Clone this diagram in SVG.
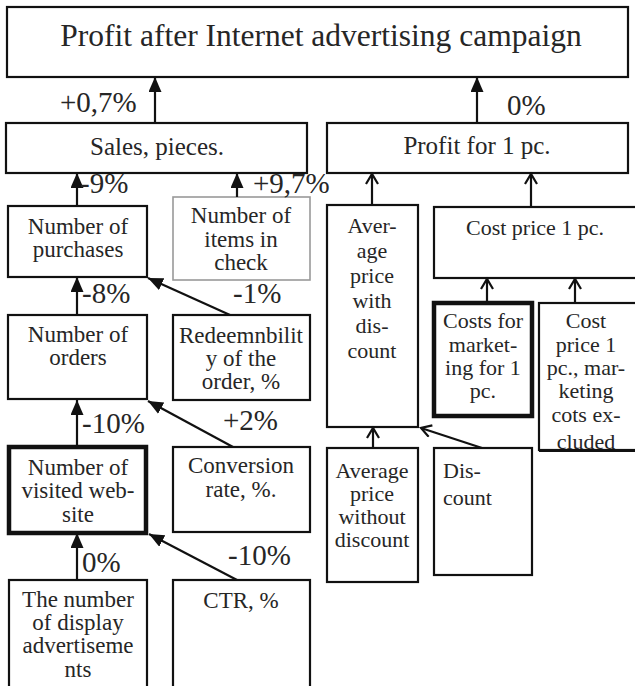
<svg xmlns="http://www.w3.org/2000/svg" width="635" height="686" viewBox="0 0 635 686">
<defs>
<marker id="fa" markerUnits="userSpaceOnUse" markerWidth="16" markerHeight="14" refX="15" refY="6.5" orient="auto"><path d="M0,0 L15,6.5 L0,13 z" fill="#111"/></marker>
<marker id="oa" markerUnits="userSpaceOnUse" markerWidth="14" markerHeight="16" refX="11" refY="7" orient="auto"><path d="M1,1 L11,7 L1,13" fill="none" stroke="#111" stroke-width="2.2"/></marker>
<style>
.b{fill:#fff;stroke:#111;stroke-width:2.2}
.k{fill:#fff;stroke:#111;stroke-width:4.5}
.g{fill:#fff;stroke:#999;stroke-width:1.6}
text{font-family:"Liberation Serif","Times New Roman",serif;fill:#262626}
.t{font-size:23px;text-anchor:middle}
.r{font-size:22px;text-anchor:middle}
.h{font-size:25px;text-anchor:middle}
.p{font-size:29px}
.c line{stroke:#111;stroke-width:2.2}
.f{marker-end:url(#fa)}
.o{marker-end:url(#oa)}
</style>
</defs>
<rect width="635" height="686" fill="#fff"/>

<g id="profit-total"><rect class="b" x="7" y="7" width="621" height="70"/><text x="321" y="46" style="font-size:31.5px;text-anchor:middle">Profit after Internet advertising campaign</text></g>
<g id="sales"><rect class="b" x="6" y="123" width="301" height="50"/><text class="h" x="157" y="155">Sales, pieces.</text></g>
<g id="profit-1pc"><rect class="b" x="327" y="123" width="301" height="50"/><text class="h" x="477" y="154">Profit for 1 pc.</text></g>

<g id="purchases"><rect class="b" x="8" y="206" width="139" height="71"/><text class="t" x="78" y="234">Number of</text><text class="t" x="78" y="257">purchases</text></g>
<g id="items"><rect class="g" x="173" y="197" width="137" height="83"/><text class="t" x="241" y="223">Number of</text><text class="t" x="241" y="247">items in</text><text class="t" x="241" y="270">check</text></g>
<g id="orders"><rect class="b" x="8" y="315" width="139" height="84"/><text class="t" x="78" y="342">Number of</text><text class="t" x="78" y="365">orders</text></g>
<g id="redeem"><rect class="b" x="173" y="315" width="137" height="85"/><text class="t" x="241" y="343">Redeemnbilit</text><text class="t" x="241" y="366">y of the</text><text class="t" x="241" y="389">order, %</text></g>
<g id="visited"><rect class="k" x="9" y="447" width="137" height="86"/><text class="t" x="78" y="475">Number of</text><text class="t" x="78" y="498">visited web-</text><text class="t" x="78" y="522">site</text></g>
<g id="conversion"><rect class="b" x="173" y="447" width="137" height="85"/><text class="t" x="241" y="473">Conversion</text><text class="t" x="241" y="497">rate, %.</text></g>
<g id="display"><rect class="b" x="9" y="580" width="138" height="110"/><text class="t" x="78" y="607">The number</text><text class="t" x="78" y="630">of display</text><text class="t" x="78" y="653">advertiseme</text><text class="t" x="78" y="677">nts</text></g>
<g id="ctr"><rect class="b" x="173" y="580" width="137" height="110"/><text class="t" x="241" y="608">CTR, %</text></g>

<g id="avg-disc"><rect class="b" x="327" y="205" width="91" height="222"/><text class="r" x="372" y="233">Aver-</text><text class="r" x="372" y="258">age</text><text class="r" x="372" y="283">price</text><text class="r" x="372" y="308">with</text><text class="r" x="372" y="333">dis-</text><text class="r" x="372" y="358">count</text></g>
<g id="cost-price"><rect class="b" x="434" y="207" width="204" height="71"/><text class="r" x="535" y="235">Cost price 1 pc.</text></g>
<g id="marketing"><rect class="k" x="434" y="303" width="98" height="113"/><text class="r" x="483" y="328">Costs for</text><text class="r" x="483" y="352">market-</text><text class="r" x="483" y="375">ing for 1</text><text class="r" x="483" y="398">pc.</text></g>
<g id="cost-excl"><rect class="b" x="539" y="303" width="102" height="147"/><text class="r" x="586" y="328">Cost</text><text class="r" x="586" y="352">price 1</text><text class="r" x="586" y="375">pc., mar-</text><text class="r" x="586" y="398">keting</text><text class="r" x="586" y="422">cots ex-</text><text class="r" x="586" y="449">cluded</text><rect x="539" y="449" width="102" height="3" fill="#111"/></g>
<g id="avg-nodisc"><rect class="b" x="327" y="448" width="91" height="134"/><text class="r" x="372" y="478">Average</text><text class="r" x="372" y="501">price</text><text class="r" x="372" y="524">without</text><text class="r" x="372" y="547">discount</text></g>
<g id="discount"><rect class="b" x="434" y="448" width="98" height="127"/><text x="443" y="478" style="font-size:22px">Dis-</text><text x="443" y="505" style="font-size:22px">count</text></g>

<g id="connectors" class="c">
<line class="f" x1="155" y1="123" x2="155" y2="77"/>
<line class="f" x1="477" y1="123" x2="477" y2="77"/>
<line class="f" x1="77" y1="206" x2="77" y2="173"/>
<line class="f" x1="237" y1="197" x2="237" y2="173"/>
<line class="f" x1="77" y1="315" x2="77" y2="277"/>
<line class="f" x1="230" y1="315" x2="148" y2="278"/>
<line class="f" x1="77" y1="447" x2="77" y2="400"/>
<line class="f" x1="233" y1="447" x2="148" y2="401"/>
<line class="f" x1="77" y1="580" x2="77" y2="533"/>
<line class="f" x1="237" y1="580" x2="149" y2="534"/>
<line class="o" x1="372" y1="205" x2="372" y2="174"/>
<line class="o" x1="531" y1="207" x2="531" y2="174"/>
<line class="o" x1="487" y1="303" x2="487" y2="279"/>
<line class="o" x1="575" y1="303" x2="575" y2="279"/>
<line class="o" x1="373" y1="448" x2="373" y2="428"/>
<line class="o" x1="482" y1="448" x2="421" y2="428"/>
</g>

<g id="labels">
<text class="p" x="60" y="112">+0,7%</text>
<text class="p" x="507" y="115">0%</text>
<text class="p" x="80" y="193">-9%</text>
<text class="p" x="253" y="193">+9,7%</text>
<text class="p" x="82" y="303">-8%</text>
<text class="p" x="233" y="303">-1%</text>
<text class="p" x="82" y="433">-10%</text>
<text class="p" x="223" y="430">+2%</text>
<text class="p" x="82" y="572">0%</text>
<text class="p" x="228" y="565">-10%</text>
</g>
</svg>
